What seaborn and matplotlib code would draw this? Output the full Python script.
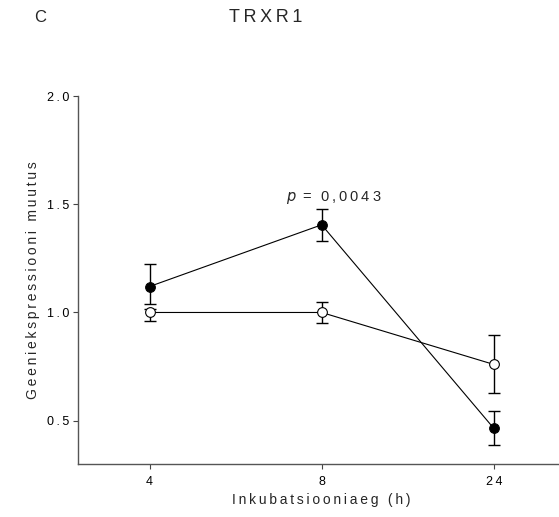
import pandas as pd
import matplotlib.pyplot as plt
import numpy as np
import seaborn as sns

# Data
hours = ["4", "8", "24"]
filled_mean = [1.12, 1.405, 0.465]
filled_lo = [1.04, 1.33, 0.39]
filled_hi = [1.225, 1.48, 0.543]
open_mean = [1.0, 1.0, 0.76]
open_lo = [0.962, 0.953, 0.627]
open_hi = [1.017, 1.047, 0.895]

yticks = [0.5, 1.0, 1.5, 2.0]
ytick_labels = ["0.5", "1.0", "1.5", "2.0"]


def spaced(s):
    # loose letter spacing as in the original figure
    return "\u2009".join(s)


sns.set_style("ticks")
plt.rcParams["font.family"] = ["Liberation Sans", "DejaVu Sans"]

fig = plt.figure(figsize=(5.59, 5.17), dpi=100)
ax = fig.add_axes([0.1395, 0.1025, 0.87, 0.7118])

pos = np.arange(len(hours))
df = pd.DataFrame({
    "pos": np.concatenate([pos, pos]),
    "value": open_mean + filled_mean,
    "group": ["open"] * 3 + ["filled"] * 3,
})

# Error bars
ax.errorbar(pos, open_mean,
            yerr=[np.array(open_mean) - np.array(open_lo), np.array(open_hi) - np.array(open_mean)],
            fmt="none", ecolor="black", elinewidth=1.0, capsize=4, capthick=1.0, zorder=2)
ax.errorbar(pos, filled_mean,
            yerr=[np.array(filled_mean) - np.array(filled_lo), np.array(filled_hi) - np.array(filled_mean)],
            fmt="none", ecolor="black", elinewidth=1.0, capsize=4, capthick=1.0, zorder=2)

# Lines + markers
sns.lineplot(data=df[df["group"] == "open"], x="pos", y="value", ax=ax, color="black",
             linewidth=0.8, marker="o", markersize=7, markerfacecolor="white",
             markeredgecolor="black", markeredgewidth=0.8, zorder=3)
sns.lineplot(data=df[df["group"] == "filled"], x="pos", y="value", ax=ax, color="black",
             linewidth=0.8, marker="o", markersize=7, markerfacecolor="black",
             markeredgecolor="black", zorder=4)

ax.set_xlim(-0.416, 2.41)
ax.set_ylim(0.3, 2.0)
ax.set_xticks(pos)
ax.set_xticklabels([spaced(h) for h in hours], fontsize=9)
ax.set_yticks(yticks)
ax.set_yticklabels([spaced(t) for t in ytick_labels], fontsize=9)
ax.tick_params(direction="out", length=3.5, width=0.8, colors="#444444", labelcolor="black", pad=2.5)
ax.tick_params(axis="x", pad=5)

ax.set_xlabel(spaced("Inkubatsiooniaeg (h)"), fontsize=10, labelpad=4)
ax.set_ylabel(spaced("Geeniekspressiooni muutus"), fontsize=10, labelpad=5.5)

for side in ["top", "right"]:
    ax.spines[side].set_visible(False)
for side in ["left", "bottom"]:
    ax.spines[side].set_color("#555555")
    ax.spines[side].set_linewidth(1.0)

ax.text(1.07, 1.49, "$p$" + spaced(" = 0,0043"), ha="center", va="bottom", fontsize=10.5)

fig.text(0.475, 0.967, spaced("TRXR1"), ha="center", va="center", fontsize=13)
fig.text(0.072, 0.967, "C", ha="center", va="center", fontsize=12)

fig.savefig("out.png", dpi=100)
